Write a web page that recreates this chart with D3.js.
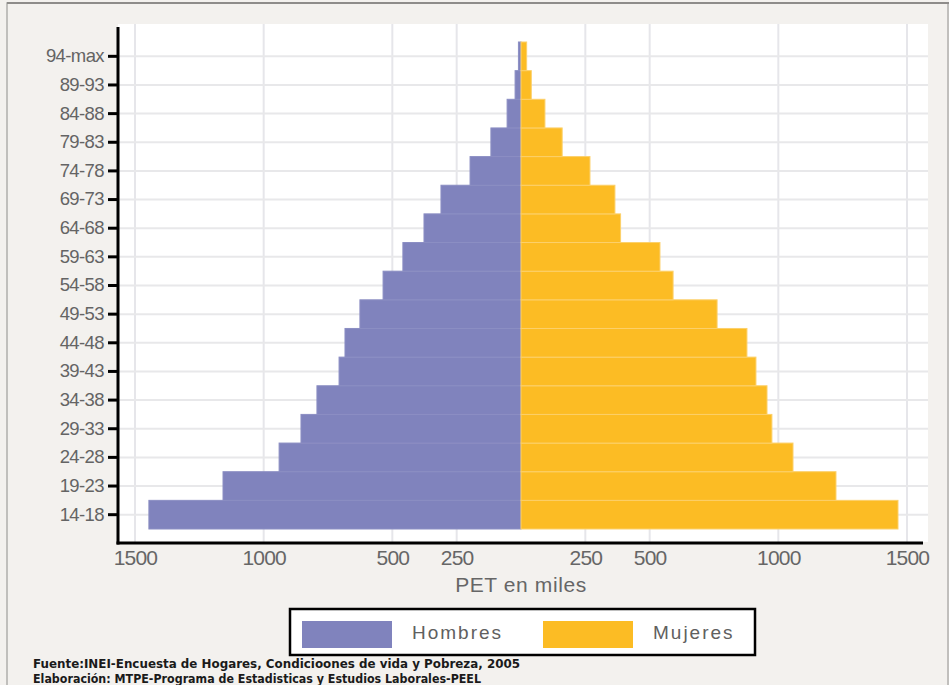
<!DOCTYPE html>
<html>
<head>
<meta charset="utf-8">
<script src="https://cdn.jsdelivr.net/npm/d3@7"></script>
<style>
  html, body { margin: 0; padding: 0; background: #f3f1ee; }
  svg { display: block; }
</style>
</head>
<body>
<svg id="chart" width="949" height="685"></svg>
<script>
const categories = ["14-18","19-23","24-28","29-33","34-38","39-43","44-48","49-53","54-58","59-63","64-68","69-73","74-78","79-83","84-88","89-93","94-max"];
const hombres = [1446,1158,940,855,793,707,684,626,536,459,377,311,198,117,54,23,10];
const mujeres = [1465,1224,1057,975,956,913,878,762,591,540,387,365,268,160,93,40,22];
const tickValues = [250,500,1000,1500];
const seriesNames = ["Hombres","Mujeres"];
const colors = ["#8083bd","#fcbc24"];
const xTitle = "PET en miles";
const sourceLines = [
  "Fuente:INEI-Encuesta de Hogares, Condicioones de vida y Pobreza, 2005",
  "Elaboración: MTPE-Programa de Estadisticas y Estudios Laborales-PEEL"
];

const svg = d3.select("#chart");
const W = 949, H = 685;

// outer frame
svg.append("rect").attr("x", 7).attr("y", 3).attr("width", W - 8).attr("height", H + 5)
  .attr("fill", "#f3f1ee").attr("stroke", "#b0aeac").attr("stroke-width", 1.5);
svg.append("line").attr("x1", 7).attr("x2", W).attr("y1", 3).attr("y2", 3)
  .attr("stroke", "#8e8c8a").attr("stroke-width", 2);

const plot = {left: 118, right: 928, top: 24, bottom: 542};
const center = 521;

// plot background
svg.append("rect").attr("x", plot.left).attr("y", plot.top)
  .attr("width", plot.right - plot.left).attr("height", plot.bottom - plot.top)
  .attr("fill", "#ffffff");

const xL = d3.scaleLinear().domain([0, 1500]).range([center, 135]);
const xR = d3.scaleLinear().domain([0, 1500]).range([center, 907]);
const y = d3.scaleBand().domain(categories.slice().reverse()).range([42, 529]).padding(0);

// gridlines
const grid = svg.append("g");
tickValues.forEach(v => {
  [xL(v), xR(v)].forEach(x => {
    grid.append("line").attr("x1", x).attr("x2", x).attr("y1", plot.top).attr("y2", plot.bottom)
      .attr("stroke", "#e6e6ea").attr("stroke-width", 2);
  });
});
categories.forEach(c => {
  const yy = y(c) + y.bandwidth() / 2;
  grid.append("line").attr("x1", plot.left).attr("x2", plot.right).attr("y1", yy).attr("y2", yy)
    .attr("stroke", "#e8e8ea").attr("stroke-width", 2);
});

// bars
const bars = svg.append("g");
bars.selectAll("rect.h").data(categories).join("rect").attr("class", "h")
  .attr("x", (d, i) => xL(hombres[i]))
  .attr("y", d => y(d))
  .attr("width", (d, i) => center - xL(hombres[i]))
  .attr("height", y.bandwidth())
  .attr("fill", colors[0])
  .attr("stroke", "#8b8ec3").attr("stroke-width", 1);
bars.selectAll("rect.m").data(categories).join("rect").attr("class", "m")
  .attr("x", center)
  .attr("y", d => y(d))
  .attr("width", (d, i) => xR(mujeres[i]) - center)
  .attr("height", y.bandwidth())
  .attr("fill", colors[1])
  .attr("stroke", "#fcd06a").attr("stroke-width", 1);

// y axis
const yAxis = svg.append("g").attr("transform", `translate(${plot.left},0)`)
  .call(d3.axisLeft(y).tickSize(10).tickPadding(4));
yAxis.select(".domain").remove();
yAxis.selectAll(".tick line").attr("stroke", "#000").attr("stroke-width", 3);
yAxis.selectAll(".tick text").attr("fill", "#646464")
  .style("font-family", "'Liberation Sans', Arial, sans-serif").style("font-size", "18.5px")
  .attr("letter-spacing", "-0.6");
svg.append("line").attr("x1", plot.left).attr("x2", plot.left).attr("y1", 27).attr("y2", 544.5)
  .attr("stroke", "#000").attr("stroke-width", 3);

// x axes (two halves)
function styleX(g) {
  g.select(".domain").remove();
  g.selectAll(".tick line").remove();
  g.selectAll(".tick text").attr("fill", "#666")
    .style("font-family", "'Liberation Sans', Arial, sans-serif").style("font-size", "21px")
    .attr("letter-spacing", "-0.8");
}
svg.append("g").attr("transform", `translate(0,${plot.bottom})`)
  .call(d3.axisBottom(xL).tickValues(tickValues).tickFormat(d3.format("d")).tickSize(0).tickPadding(8)).call(styleX);
svg.append("g").attr("transform", `translate(0,${plot.bottom})`)
  .call(d3.axisBottom(xR).tickValues(tickValues).tickFormat(d3.format("d")).tickSize(0).tickPadding(8)).call(styleX);
svg.append("line").attr("x1", plot.left - 1.5).attr("x2", 923).attr("y1", 543).attr("y2", 543)
  .attr("stroke", "#000").attr("stroke-width", 3);

svg.append("text").attr("x", center).attr("y", 592).attr("text-anchor", "middle")
  .attr("fill", "#666").style("font-family", "'Liberation Sans', Arial, sans-serif")
  .style("font-size", "21px").attr("letter-spacing", "0.6").text(xTitle);

// legend
const lg = svg.append("g");
lg.append("rect").attr("x", 290).attr("y", 609).attr("width", 465).attr("height", 46)
  .attr("fill", "#fff").attr("stroke", "#000").attr("stroke-width", 2.5);
const legendX = [302, 543];
seriesNames.forEach((n, i) => {
  lg.append("rect").attr("x", legendX[i]).attr("y", 621).attr("width", 90).attr("height", 27)
    .attr("fill", colors[i]);
  lg.append("text").attr("x", legendX[i] + 110).attr("y", 639)
    .attr("fill", "#606060").style("font-family", "'Liberation Sans', Arial, sans-serif")
    .style("font-size", "19px").attr("letter-spacing", "2").text(n);
});

// source
sourceLines.forEach((s, i) => {
  svg.append("text").attr("x", 33).attr("y", 668 + i * 15)
    .attr("fill", "#1a1a1a")
    .style("font-family", "'Liberation Sans Narrow', 'DejaVu Sans Condensed', sans-serif")
    .style("font-size", "12px").style("font-weight", "bold")
    .attr("textLength", i === 0 ? 487 : 448).attr("lengthAdjust", "spacingAndGlyphs")
    .text(s);
});
</script>
</body>
</html>
